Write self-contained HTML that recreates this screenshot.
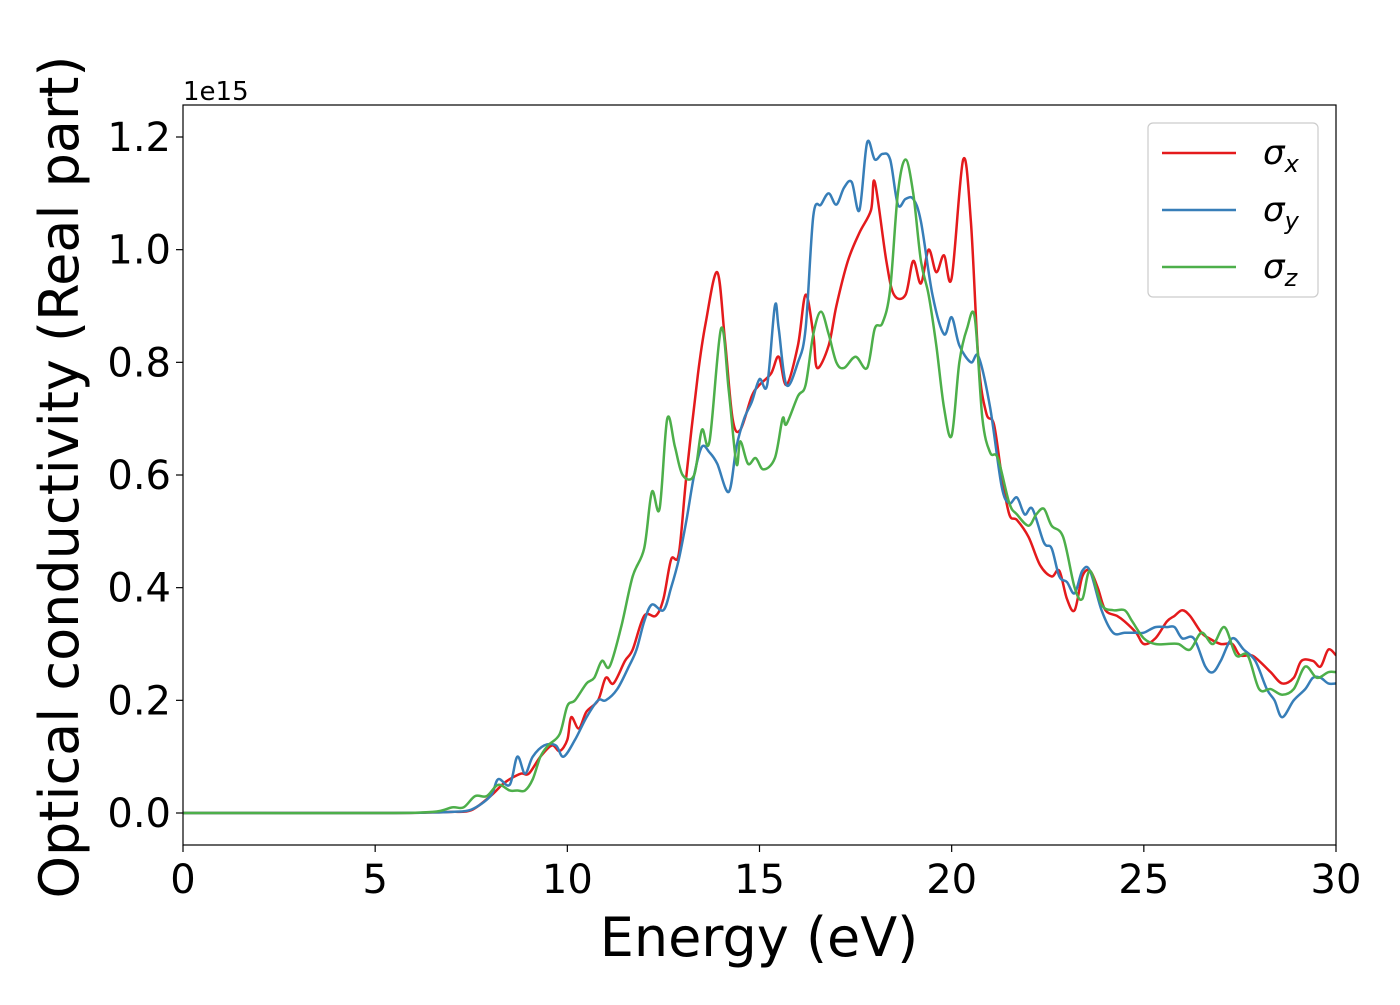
<!DOCTYPE html>
<html><head><meta charset="utf-8"><style>
body{margin:0;background:#fff;}
svg text{font-family:"DejaVu Sans","Liberation Sans",sans-serif;fill:#000;}
</style></head><body>
<svg id="chart" width="1400" height="1000" xmlns="http://www.w3.org/2000/svg">
<g id="plot"></g>
</svg>
<script>
const xTicks=[0,5,10,15,20,25,30];
const yTicks=[0.0,0.2,0.4,0.6,0.8,1.0,1.2];
const yTickLabels=["0.0","0.2","0.4","0.6","0.8","1.0","1.2"];
const redE=[0,5,6.5,7,7.5,8,8.3,8.5,8.8,9,9.3,9.6,9.8,10,10.1,10.3,10.5,10.8,11,11.2,11.5,11.7,12,12.3,12.5,12.7,12.9,13.1,13.4,13.6,13.9,14.1,14.3,14.5,14.8,15,15.3,15.5,15.7,16,16.2,16.4,16.5,16.8,17,17.3,17.6,17.9,18,18.3,18.5,18.8,19,19.2,19.4,19.6,19.8,20,20.3,20.5,20.7,20.9,21.1,21.3,21.5,21.7,22,22.3,22.6,22.8,23,23.2,23.4,23.6,23.8,24,24.3,24.5,24.8,25,25.3,25.6,25.8,26,26.2,26.5,26.7,27,27.3,27.5,27.8,28,28.3,28.6,28.9,29.1,29.4,29.6,29.8,30];
const redV=[0,0,0.001,0.002,0.005,0.03,0.05,0.06,0.07,0.07,0.1,0.12,0.11,0.13,0.17,0.15,0.18,0.2,0.24,0.23,0.27,0.29,0.35,0.35,0.38,0.45,0.46,0.6,0.78,0.87,0.96,0.84,0.7,0.68,0.74,0.76,0.78,0.81,0.76,0.83,0.92,0.85,0.79,0.83,0.9,0.98,1.03,1.07,1.12,0.98,0.92,0.92,0.98,0.94,1.0,0.96,0.99,0.95,1.16,1.05,0.8,0.71,0.69,0.6,0.53,0.52,0.49,0.44,0.42,0.43,0.38,0.36,0.42,0.43,0.4,0.36,0.35,0.34,0.32,0.3,0.31,0.34,0.35,0.36,0.35,0.32,0.31,0.3,0.3,0.28,0.28,0.27,0.25,0.23,0.24,0.27,0.27,0.26,0.29,0.28];
const blueE=[0,5,6.5,7,7.5,8,8.2,8.5,8.7,8.9,9.1,9.4,9.7,9.9,10.2,10.5,10.8,11,11.3,11.6,11.8,12,12.2,12.5,12.7,12.9,13.1,13.3,13.5,13.7,13.9,14.2,14.4,14.6,14.8,15,15.2,15.4,15.5,15.7,16,16.2,16.4,16.6,16.8,17,17.2,17.4,17.6,17.8,18,18.2,18.4,18.6,18.8,19,19.2,19.5,19.8,20,20.2,20.5,20.7,21,21.3,21.5,21.7,21.9,22.1,22.4,22.6,22.8,23,23.2,23.4,23.6,23.9,24.2,24.5,24.8,25,25.3,25.6,25.8,26,26.3,26.6,26.8,27,27.3,27.6,27.9,28.2,28.4,28.6,28.9,29.2,29.4,29.6,29.8,30];
const blueV=[0,0,0.001,0.002,0.006,0.03,0.06,0.05,0.1,0.07,0.1,0.12,0.12,0.1,0.13,0.17,0.2,0.2,0.22,0.26,0.29,0.34,0.37,0.36,0.4,0.45,0.52,0.6,0.65,0.64,0.62,0.57,0.65,0.7,0.73,0.77,0.76,0.9,0.86,0.76,0.8,0.86,1.06,1.08,1.1,1.08,1.11,1.12,1.07,1.19,1.16,1.17,1.16,1.08,1.09,1.09,1.05,0.92,0.85,0.88,0.83,0.8,0.81,0.72,0.58,0.55,0.56,0.53,0.54,0.48,0.47,0.42,0.41,0.39,0.43,0.43,0.36,0.32,0.32,0.32,0.32,0.33,0.33,0.33,0.31,0.31,0.26,0.25,0.27,0.31,0.29,0.27,0.22,0.2,0.17,0.2,0.22,0.24,0.24,0.23,0.23];
const greenE=[0,5,6.5,7,7.3,7.6,7.9,8.2,8.5,8.7,8.9,9.1,9.3,9.5,9.8,10,10.2,10.5,10.7,10.9,11.1,11.4,11.7,12,12.2,12.4,12.6,12.8,13,13.3,13.5,13.7,14,14.2,14.4,14.5,14.7,14.9,15.1,15.4,15.6,15.7,16,16.2,16.4,16.6,16.8,17,17.2,17.5,17.8,18,18.2,18.4,18.6,18.8,19,19.2,19.4,19.6,19.8,20,20.2,20.4,20.6,20.8,21,21.2,21.5,21.7,22,22.2,22.4,22.6,22.9,23.2,23.4,23.6,23.9,24.2,24.5,24.7,25,25.3,25.6,25.9,26.2,26.5,26.8,27.1,27.4,27.7,28,28.3,28.6,28.9,29.2,29.5,29.8,30];
const greenV=[0,0,0.002,0.01,0.01,0.03,0.03,0.05,0.04,0.04,0.04,0.06,0.1,0.12,0.14,0.19,0.2,0.23,0.24,0.27,0.26,0.33,0.42,0.47,0.57,0.54,0.7,0.65,0.6,0.6,0.68,0.66,0.86,0.75,0.62,0.66,0.62,0.63,0.61,0.63,0.7,0.69,0.74,0.76,0.85,0.89,0.85,0.8,0.79,0.81,0.79,0.86,0.87,0.93,1.1,1.16,1.1,0.98,0.92,0.83,0.72,0.67,0.8,0.86,0.88,0.7,0.64,0.63,0.55,0.53,0.51,0.53,0.54,0.51,0.49,0.4,0.38,0.43,0.37,0.36,0.36,0.34,0.31,0.3,0.3,0.3,0.29,0.32,0.3,0.33,0.28,0.28,0.22,0.22,0.21,0.22,0.26,0.24,0.25,0.25];

const NS="http://www.w3.org/2000/svg";
const L=183,R=1336,T=105,B=845;
const xS=e=>L+(e-0)/(30-0)*(R-L);
const yS=v=>813-v*(813-137)/1.2;
const g=document.getElementById('plot');
function mk(tag,attrs,parent){const el=document.createElementNS(NS,tag);for(const k in attrs)el.setAttribute(k,attrs[k]);(parent||g).appendChild(el);return el;}
const clip=mk('clipPath',{id:'clip'});mk('rect',{x:L,y:T,width:R-L,height:B-T},clip);
function pathD(E,V){const p=E.map((e,i)=>[xS(e),yS(V[i])]);let d='M'+p[0][0]+','+p[0][1];
for(let i=0;i<p.length-1;i++){const p0=p[i-1]||p[i],p1=p[i],p2=p[i+1],p3=p[i+2]||p2;
d+=' C'+(p1[0]+(p2[0]-p0[0])/6)+','+(p1[1]+(p2[1]-p0[1])/6)+' '+(p2[0]-(p3[0]-p1[0])/6)+','+(p2[1]-(p3[1]-p1[1])/6)+' '+p2[0]+','+p2[1];}return d;}
const series=[[redE,redV,'#e41a1c','sigma-x-line'],[blueE,blueV,'#377eb8','sigma-y-line'],[greenE,greenV,'#4daf4a','sigma-z-line']];
series.forEach(s=>{const el=mk('path',{d:pathD(s[0],s[1]),fill:'none',stroke:s[2],'stroke-width':2.5,'clip-path':'url(#clip)'});

});
const frame=mk('rect',{x:L,y:T,width:R-L,height:B-T,fill:'none',stroke:'#000','stroke-width':1.2});


xTicks.forEach(t=>{mk('line',{x1:xS(t),x2:xS(t),y1:B,y2:B+7,stroke:'#000','stroke-width':1.2});
const tx=mk('text',{x:xS(t),y:B+48,'text-anchor':'middle','font-size':40});tx.textContent=t;

});
yTicks.forEach((t,i)=>{mk('line',{x1:L-7,x2:L,y1:yS(t),y2:yS(t),stroke:'#000','stroke-width':1.2});
const tx=mk('text',{x:L-12,y:yS(t)+14,'text-anchor':'end','font-size':40});tx.textContent=yTickLabels[i];

});
const off=mk('text',{x:183,y:100,'font-size':26});off.textContent='1e15';


const xl=mk('text',{x:759,y:956,'text-anchor':'middle','font-size':54});xl.textContent='Energy (eV)';


const yl=mk('text',{x:0,y:0,'text-anchor':'middle','font-size':54,transform:'translate(78,477) rotate(-90)'});yl.textContent='Optical conductivity (Real part)';


const lg=mk('g',{});


mk('rect',{x:1148,y:123,width:170,height:174,rx:5,fill:'#fff',stroke:'#ccc','stroke-width':1.2},lg);
const labs=[['x','#e41a1c'],['y','#377eb8'],['z','#4daf4a']];
labs.forEach((l,i)=>{const y=153+i*57;
mk('line',{x1:1162,x2:1236,y1:y,y2:y,stroke:l[1],'stroke-width':2.5},lg);
const tx=mk('text',{x:1263,y:y+11,'font-size':34,'font-style':'italic'},lg);tx.textContent='σ';
const sub=mk('tspan',{'font-size':24,dy:8},tx);sub.textContent=l[0];

});
</script>
</body></html>
